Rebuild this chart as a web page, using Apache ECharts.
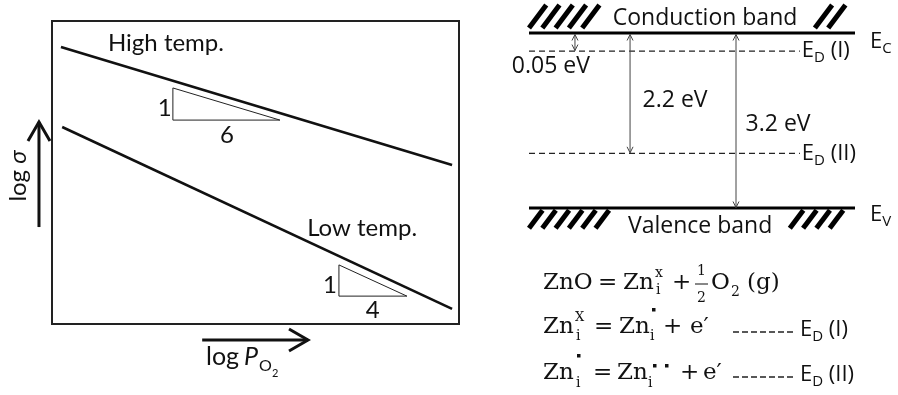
<!DOCTYPE html>
<html>
<head>
<meta charset="utf-8">
<script src="https://cdn.jsdelivr.net/npm/echarts@6/dist/echarts.min.js"></script>
<style>
html, body { margin: 0; padding: 0; background: #fff; }
#chart { width: 898px; height: 395px; }
</style>
</head>
<body>
<div id="chart"></div>
<script>
// left panel: log(sigma) against log(pO2), schematic units 0..10
var highTemp = [[0.22, 9.14], [9.83, 5.25]];
var lowTemp = [[0.25, 6.50], [9.83, 0.50]];
var slopeHigh = [[2.97, 7.79], [2.97, 6.73], [5.60, 6.73]];
var slopeLow = [[7.05, 1.95], [7.05, 0.92], [8.72, 0.92]];
var slopeText = ['1', '6', '1', '4'];
var slopeTextPos = [[2.60, 7.13], [4.13, 6.24], [6.66, 1.29], [7.71, 0.46]];
var curveText = ['High temp.', 'Low temp.'];
var curveTextPos = [[2.80, 9.27], [7.62, 3.17]];
var sigmaArrow = [[-0.32, 3.20], [-0.32, 6.67]];
var pressureArrow = [[3.69, -0.53], [6.29, -0.53]];

// right panel: band diagram in eV (E_D(I) is drawn stretched, as in the figure)
var levelY = [3.2, 2.87, 1.0, 0];
var levelEnd = [10, 8.31, 8.31, 10];
var levelDashed = [false, true, true, false];
var levelMain = ['E', 'E', 'E', 'E'];
var levelSub = ['C', 'D', 'D', 'V'];
var levelTail = ['', ' (I)', ' (II)', ''];
var levelTextPos = [[10.46, 3.04], [8.37, 2.87], [8.37, 1.0], [10.46, -0.13]];
var gapX = [1.41, 3.10, 6.35];
var gapTop = [3.2, 3.2, 3.2];
var gapBottom = [2.87, 1.0, 0];
var gapText = ['0.05 eV', '2.2 eV', '3.2 eV'];
var gapTextPos = [[0.67, 2.58], [4.48, 1.97], [7.64, 1.52]];
var hatchX = [[0, 2.18], [8.77, 10], [0, 2.70], [8.0, 9.94]];
var hatchY = [[3.29, 3.71], [3.29, 3.71], [-0.37, -0.04], [-0.37, -0.04]];
var bandText = ['Conduction band', 'Valence band'];
var bandTextPos = [[5.40, 3.47], [5.25, -0.33]];

var LATO = 'Lato, "Noto Sans", sans-serif';
var OPEN = '"Open Sans", "DejaVu Sans", sans-serif';
var SERIF = '"DejaVu Serif", serif';
var INK = '#111';

var measure = document.createElement('canvas').getContext('2d');
function textWidth(str, font) {
    measure.font = font;
    return measure.measureText(str).width;
}

function txt(str, x, y, font, align) {
    return {
        type: 'text',
        style: {
            text: str, x: x, y: y, font: font, fill: INK,
            align: align || 'left', verticalAlign: 'middle',
            textAlign: align || 'left', textVerticalAlign: 'middle'
        }
    };
}

function subLabel(x, y, main, sub, tail, size, subSize, family, align) {
    var f1 = size + 'px ' + family, f2 = subSize + 'px ' + family;
    var w1 = textWidth(main, f1), w2 = textWidth(sub, f2), w3 = textWidth(tail, f1);
    var x0 = align === 'center' ? x - (w1 + w2 + w3) / 2 : x;
    var out = [txt(main, x0, y, f1), txt(sub, x0 + w1, y + size * 0.32, f2)];
    if (tail) out.push(txt(tail, x0 + w1 + w2, y, f1));
    return out;
}

function arrowParts(p0, p1, back, spread, lw, color, both) {
    var dx = p1[0] - p0[0], dy = p1[1] - p0[1];
    var len = Math.sqrt(dx * dx + dy * dy);
    var ux = dx / len, uy = dy / len, nx = -uy, ny = ux;
    var parts = [{
        type: 'line',
        shape: { x1: p0[0], y1: p0[1], x2: p1[0], y2: p1[1] },
        style: { stroke: color, lineWidth: lw }
    }];
    function head(t, s) {
        parts.push({
            type: 'polyline',
            shape: { points: [
                [t[0] - s * ux * back + nx * spread, t[1] - s * uy * back + ny * spread],
                [t[0], t[1]],
                [t[0] - s * ux * back - nx * spread, t[1] - s * uy * back - ny * spread]
            ] },
            style: { stroke: color, lineWidth: lw, fill: null, lineJoin: 'miter' }
        });
    }
    head(p1, 1);
    if (both) head(p0, -1);
    return parts;
}

function hiddenAxis(idx, min, max) {
    return {
        type: 'value', gridIndex: idx, min: min, max: max,
        axisLine: { show: false }, axisTick: { show: false },
        axisLabel: { show: false }, splitLine: { show: false }
    };
}

var chart = echarts.init(document.getElementById('chart'));

function mathText(str, x, y, size) {
    return txt(str, x, y, size + 'px ' + SERIF);
}
function dot(x, y) {
    return { type: 'rect', shape: { x: x, y: y, width: 3.5, height: 3.5 }, style: { fill: INK } };
}
function dashes(x1, x2, y) {
    return { type: 'line', shape: { x1: x1, y1: y, x2: x2, y2: y }, style: { stroke: '#222', lineWidth: 1.3, lineDash: [6, 3] } };
}

var M = 23, S = 14;
var equations = [
    // ZnO = Zn_i^x + 1/2 O2 (g)
    mathText('ZnO', 543, 283, M), mathText('=', 598, 283, M), mathText('Zn', 623, 283, M),
    mathText('x', 655, 273, S), mathText('i', 656, 290, S),
    mathText('+', 672, 283, M),
    mathText('1', 697, 271, S),
    { type: 'line', shape: { x1: 695, y1: 284, x2: 708, y2: 284 }, style: { stroke: INK, lineWidth: 1 } },
    mathText('2', 697, 298, S),
    mathText('O', 711, 283, M), mathText('2', 731, 292, S), mathText('(g)', 747, 283, M),
    // Zn_i^X = Zn_i^. + e'
    mathText('Zn', 543, 327, M), mathText('X', 575, 318, S - 1), mathText('i', 576, 336, S),
    mathText('=', 594, 327, M), mathText('Zn', 619, 327, M), mathText('i', 650, 336, S), dot(652, 308),
    mathText('+', 663, 327, M), mathText('e\u2032', 690, 327, M),
    dashes(733, 795, 332)
].concat(subLabel(800, 330, 'E', 'D', ' (I)', 22, 15, OPEN, 'left'), [
    // Zn_i^. = Zn_i^.. + e'
    mathText('Zn', 543, 373, M), mathText('i', 576, 383, S), dot(577, 354),
    mathText('=', 593, 373, M), mathText('Zn', 617, 373, M), mathText('i', 648, 383, S),
    dot(653, 364), dot(665, 364),
    mathText('+', 680, 373, M), mathText('e\u2032', 703, 373, M),
    dashes(733, 795, 377)
], subLabel(800, 375, 'E', 'D', ' (II)', 22, 15, OPEN, 'left'));

var axisTitles = [
    {
        type: 'text', x: 18, y: 176, rotation: Math.PI / 2,
        style: {
            text: 'log {i|\u03c3}', x: 0, y: 0, font: '24px ' + LATO, fill: INK,
            align: 'center', verticalAlign: 'middle', textAlign: 'center', textVerticalAlign: 'middle',
            rich: { i: { font: 'italic 24px ' + LATO, fill: INK } }
        }
    },
    txt('log', 206, 357, '25px ' + LATO),
    txt('P', 244, 357, 'italic 25px ' + LATO),
    txt('O', 259, 366, '16px ' + LATO),
    txt('2', 272, 373, '11px ' + LATO)
];

var option = {
    animation: false,
    backgroundColor: '#fff',
    grid: [
        { left: 52, top: 21, width: 407, height: 303, show: true, borderColor: '#222', borderWidth: 2, backgroundColor: 'transparent' },
        { left: 529, top: 33, width: 326, height: 175 }
    ],
    xAxis: [hiddenAxis(0, 0, 10), hiddenAxis(1, 0, 10)],
    yAxis: [hiddenAxis(0, 0, 10), hiddenAxis(1, 0, 3.2)],
    graphic: { elements: axisTitles.concat(equations) },
    series: [
        {
            type: 'line', xAxisIndex: 0, yAxisIndex: 0, data: highTemp, symbol: 'none', silent: true,
            lineStyle: { color: INK, width: 2.6 }
        },
        {
            type: 'line', xAxisIndex: 0, yAxisIndex: 0, data: lowTemp, symbol: 'none', silent: true,
            lineStyle: { color: INK, width: 2.6 }
        },
        {
            // slope triangles
            type: 'custom', xAxisIndex: 0, yAxisIndex: 0, silent: true,
            data: [slopeHigh[0], slopeLow[0]],
            renderItem: function (params, api) {
                var tri = params.dataIndex === 0 ? slopeHigh : slopeLow;
                return {
                    type: 'polygon',
                    shape: { points: tri.map(function (p) { return api.coord(p); }) },
                    style: { stroke: '#222', lineWidth: 1, fill: null }
                };
            }
        },
        {
            // left texts
            type: 'custom', xAxisIndex: 0, yAxisIndex: 0, silent: true,
            data: slopeTextPos.concat(curveTextPos),
            renderItem: function (params, api) {
                var i = params.dataIndex;
                var p = api.coord([api.value(0), api.value(1)]);
                if (i < slopeText.length) return txt(slopeText[i], p[0], p[1], '24px ' + LATO, 'left');
                return txt(curveText[i - slopeText.length], p[0], p[1], '24px ' + LATO, 'center');
            }
        },
        {
            // axis arrows
            type: 'custom', xAxisIndex: 0, yAxisIndex: 0, silent: true, clip: false,
            data: [sigmaArrow[0], pressureArrow[0]],
            renderItem: function (params, api) {
                var a = params.dataIndex === 0 ? sigmaArrow : pressureArrow;
                return { type: 'group', children: arrowParts(api.coord(a[0]), api.coord(a[1]), 19, 11, 3, INK, false) };
            }
        },
        {
            // hatched band edges
            type: 'custom', xAxisIndex: 1, yAxisIndex: 1, silent: true, clip: false,
            data: hatchX.map(function (h, i) { return [h[0], hatchY[i][0]]; }),
            renderItem: function (params, api) {
                var i = params.dataIndex;
                var lt = api.coord([hatchX[i][0], hatchY[i][1]]);
                var rb = api.coord([hatchX[i][1], hatchY[i][0]]);
                var h = rb[1] - lt[1], shift = h * 0.75, kids = [];
                for (var b = lt[0]; b + shift <= rb[0] + 1; b += 13.3) {
                    kids.push({
                        type: 'line',
                        shape: { x1: b, y1: rb[1], x2: b + shift, y2: lt[1] },
                        style: { stroke: '#000', lineWidth: 5, lineCap: 'butt' }
                    });
                }
                return { type: 'group', children: kids };
            }
        },
        {
            // energy levels
            type: 'custom', xAxisIndex: 1, yAxisIndex: 1, silent: true, clip: false,
            data: levelY.map(function (y) { return [0, y]; }),
            renderItem: function (params, api) {
                var i = params.dataIndex;
                var a = api.coord([0, levelY[i]]), b = api.coord([levelEnd[i], levelY[i]]);
                return {
                    type: 'line',
                    shape: { x1: a[0], y1: a[1], x2: b[0], y2: b[1] },
                    style: levelDashed[i]
                        ? { stroke: '#222', lineWidth: 1.3, lineDash: [6, 4] }
                        : { stroke: '#000', lineWidth: 3 }
                };
            }
        },
        {
            // gap arrows
            type: 'custom', xAxisIndex: 1, yAxisIndex: 1, silent: true, clip: false,
            data: gapX.map(function (x, i) { return [x, gapTop[i]]; }),
            renderItem: function (params, api) {
                var i = params.dataIndex;
                var top = api.coord([gapX[i], gapTop[i]]), bot = api.coord([gapX[i], gapBottom[i]]);
                top[1] += 1.5; bot[1] -= 0.5;
                return { type: 'group', children: arrowParts(top, bot, 6, 3, 1, '#444', true) };
            }
        },
        {
            // band labels
            type: 'custom', xAxisIndex: 1, yAxisIndex: 1, silent: true, clip: false,
            data: gapTextPos.concat(bandTextPos, levelTextPos),
            renderItem: function (params, api) {
                var i = params.dataIndex;
                var p = api.coord([api.value(0), api.value(1)]);
                var ng = gapText.length, nb = bandText.length;
                if (i < ng) return txt(gapText[i], p[0], p[1], '23px ' + OPEN, 'center');
                if (i < ng + nb) return txt(bandText[i - ng], p[0], p[1], '23px ' + OPEN, 'center');
                var k = i - ng - nb;
                return { type: 'group', children: subLabel(p[0], p[1], levelMain[k], levelSub[k], levelTail[k], 22, 15, OPEN, 'left') };
            }
        }
    ]
};
chart.setOption(option);
</script>
</body>
</html>
